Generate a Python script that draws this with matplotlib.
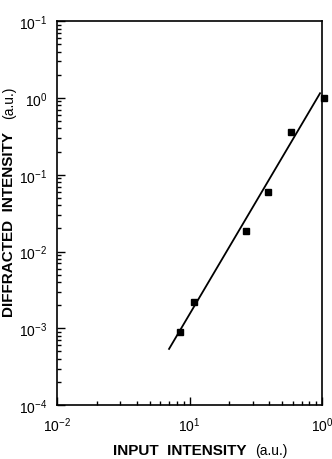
import matplotlib
matplotlib.use("Agg")
import matplotlib.pyplot as plt
from matplotlib.ticker import LogLocator, FixedLocator, FixedFormatter, NullFormatter

plt.rcParams['font.family'] = ['Liberation Sans', 'DejaVu Sans']
plt.rcParams['mathtext.default'] = 'regular'

# data
input_intensity = [0.085, 0.108, 0.267, 0.391, 0.583, 1.03]
diffracted_intensity = [8.9e-4, 2.2e-3, 0.0185, 0.059, 0.36, 1.0]
fit_x = [0.070, 0.966]
fit_y = [5.4e-4, 1.15]

x_ticks = [1e-2, 1e-1, 1e0]
x_tick_labels = [r'$10^{-2}$', r'$10^{1}$', r'$10^{0}$']
y_ticks = [1e-4, 1e-3, 1e-2, 1e-1, 1e0, 1e1]
y_tick_labels = [r'$10^{-4}$', r'$10^{-3}$', r'$10^{-2}$', r'$10^{-1}$', r'$10^{0}$', r'$10^{-1}$']

fig = plt.figure(figsize=(3.32, 4.6), dpi=100)
ax = fig.add_axes([0.172, 0.117, 0.798, 0.835])
ax.set_xscale('log')
ax.set_yscale('log')
ax.set_xlim(1e-2, 1e0)
ax.set_ylim(1e-4, 1e1)

ax.plot(fit_x, fit_y, color='black', lw=1.3)
ax.plot(input_intensity, diffracted_intensity, 's', color='black', ms=4.5, clip_on=False)

ax.xaxis.set_major_locator(FixedLocator(x_ticks))
ax.xaxis.set_major_formatter(FixedFormatter(x_tick_labels))
ax.yaxis.set_major_locator(FixedLocator(y_ticks))
ax.yaxis.set_major_formatter(FixedFormatter(y_tick_labels))
ax.xaxis.set_minor_locator(LogLocator(base=10, subs=range(2, 10)))
ax.yaxis.set_minor_locator(LogLocator(base=10, subs=range(2, 10)))
ax.xaxis.set_minor_formatter(NullFormatter())
ax.yaxis.set_minor_formatter(NullFormatter())

ax.tick_params(which='both', direction='in', top=False, right=False, width=1.0)
ax.tick_params(which='major', length=6, labelsize=10, pad=7)
ax.tick_params(which='minor', length=3)
for s in ax.spines.values():
    s.set_linewidth(1.2)

fig.text(0.34, 0.019, 'INPUT  INTENSITY', fontsize=11, fontweight='bold', ha='left', va='center')
fig.text(0.768, 0.019, '(a.u.)', fontsize=10, ha='left', va='center')
fig.text(0.027, 0.511, 'DIFFRACTED  INTENSITY', fontsize=11, fontweight='bold', rotation=90, ha='center', va='center')
fig.text(0.027, 0.776, '(a.u.)', fontsize=10, rotation=90, ha='center', va='center')

fig.savefig('out.png', dpi=100)
